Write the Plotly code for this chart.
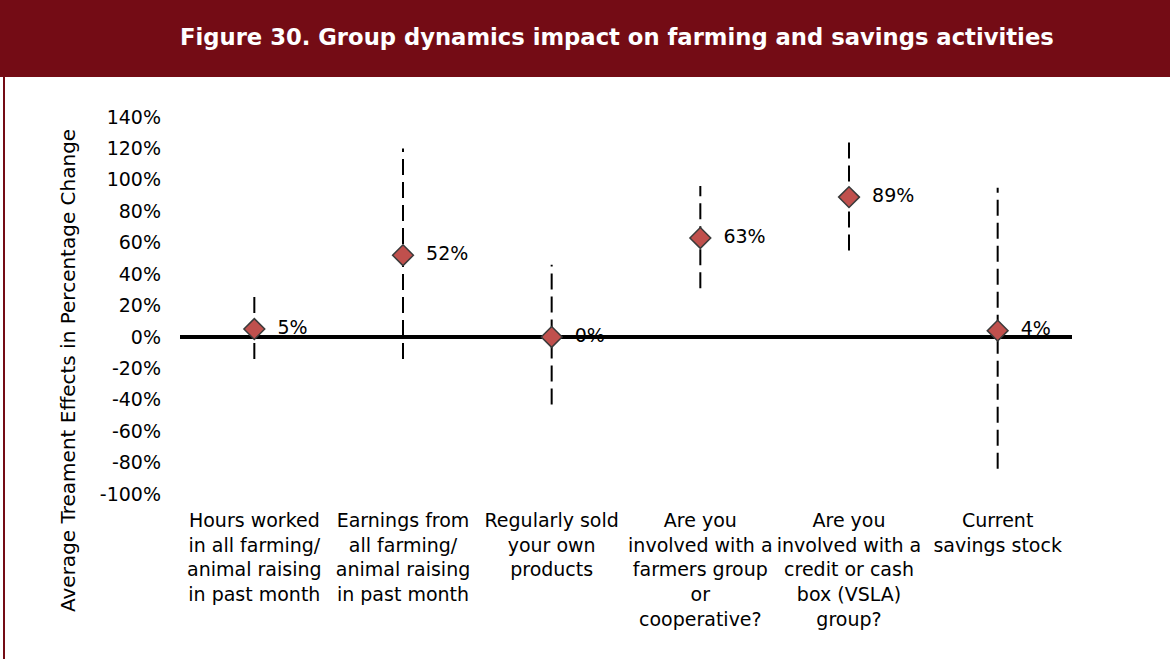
import plotly.graph_objects as go

categories = [
    "Hours worked<br>in all farming/<br>animal raising<br>in past month",
    "Earnings from<br>all farming/<br>animal raising<br>in past month",
    "Regularly sold<br>your own<br>products",
    "Are you<br>involved with a<br>farmers group<br>or<br>cooperative?",
    "Are you<br>involved with a<br>credit or cash<br>box (VSLA)<br>group?",
    "Current<br>savings stock",
]
effects = [0.05, 0.52, 0.0, 0.63, 0.89, 0.04]
effect_labels = ["5%", "52%", "0%", "63%", "89%", "4%"]
ci_low = [-0.14, -0.14, -0.43, 0.31, 0.55, -0.84]
ci_high = [0.28, 1.20, 0.46, 0.96, 1.25, 0.95]
y_ticks = [1.4, 1.2, 1.0, 0.8, 0.6, 0.4, 0.2, 0.0, -0.2, -0.4, -0.6, -0.8, -1.0]
y_tick_text = ["140%", "120%", "100%", "80%", "60%", "40%", "20%", "0%",
               "-20%", "-40%", "-60%", "-80%", "-100%"]

W, H = 1170, 659
ML, MR, MT, MB = 180, 98, 117, 165
PW = W - ML - MR
PH = H - MT - MB

def px_x(px):
    return (px - ML) / PW

def px_y(py):
    return (H - MB - py) / PH

FONT = "DejaVu Sans"
MAROON = "#740c15"

xs = list(range(len(categories)))
err_x, err_y = [], []
for i in xs:
    err_x += [i, i, None]
    err_y += [ci_low[i], ci_high[i], None]

fig = go.Figure()
fig.add_trace(go.Scatter(
    x=err_x, y=err_y, mode="lines",
    line=dict(color="black", width=2, dash="16px,7px"),
    hoverinfo="skip", showlegend=False,
))
fig.add_trace(go.Scatter(
    x=xs, y=effects, mode="markers+text",
    marker=dict(symbol="diamond", size=16, color="#c0504d",
                line=dict(color="#3a3a3a", width=1.5)),
    text=["  " + t for t in effect_labels], textposition="middle right",
    textfont=dict(family=FONT, size=19, color="black"),
    showlegend=False,
))

shapes = [
    dict(type="rect", xref="paper", yref="paper",
         x0=px_x(0), x1=px_x(W), y0=px_y(77), y1=px_y(0),
         fillcolor=MAROON, line=dict(width=0), layer="below"),
    dict(type="line", xref="paper", yref="paper",
         x0=px_x(4), x1=px_x(4), y0=px_y(H), y1=px_y(77),
         line=dict(color=MAROON, width=2)),
]

annotations = [
    dict(text="<b>Figure 30. Group dynamics impact on farming and savings activities</b>",
         xref="paper", yref="paper", x=px_x(617), y=px_y(37),
         xanchor="center", yanchor="middle", showarrow=False,
         font=dict(family=FONT, size=22.7, color="white")),
    dict(text="Average Treament Effects in Percentage Change",
         xref="paper", yref="paper", x=px_x(68), y=px_y(371),
         xanchor="center", yanchor="middle", showarrow=False, textangle=-90,
         font=dict(family=FONT, size=20, color="black")),
]

fig.update_layout(
    width=W, height=H,
    margin=dict(l=ML, r=MR, t=MT, b=MB, autoexpand=False),
    paper_bgcolor="white", plot_bgcolor="white",
    shapes=shapes, annotations=annotations,
    hovermode=False,
    font=dict(family=FONT, size=19, color="black"),
    xaxis=dict(
        range=[-0.5, len(categories) - 0.5],
        tickmode="array", tickvals=xs, ticktext=categories,
        showgrid=False, zeroline=False, showline=False, ticks="",
        tickangle=0, automargin=False,
        ticklabelstandoff=13,
        tickfont=dict(family=FONT, size=19, color="black"),
        fixedrange=True,
    ),
    yaxis=dict(
        range=[-1.0, 1.4],
        tickmode="array", tickvals=y_ticks, ticktext=y_tick_text,
        showgrid=False, zeroline=True, zerolinecolor="black", zerolinewidth=4,
        showline=False, ticks="", ticklabelstandoff=18, automargin=False,
        tickfont=dict(family=FONT, size=19, color="black"),
        fixedrange=True,
    ),
)

fig.write_html(
    "out.html",
    config={"displayModeBar": False},
    post_script="document.body.style.margin='0';document.body.style.padding='0';",
)
